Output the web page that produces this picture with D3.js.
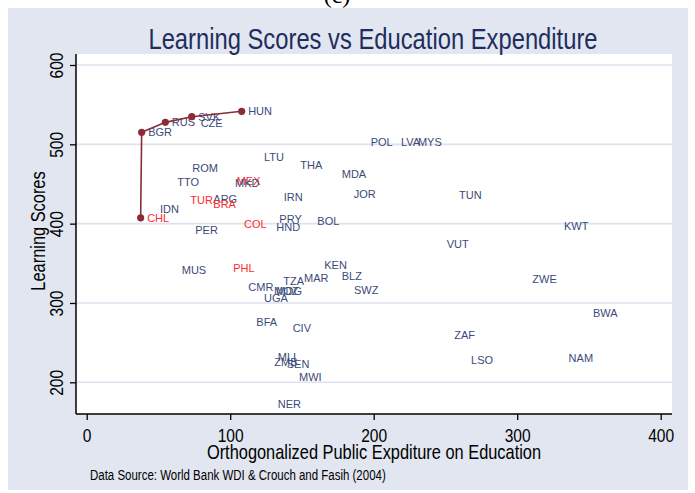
<!DOCTYPE html>
<html>
<head>
<meta charset="utf-8">
<script src="https://cdn.jsdelivr.net/npm/d3@7"></script>
<style>
  html, body { margin: 0; padding: 0; background: #ffffff; }
  svg { display: block; }
</style>
</head>
<body>
<svg id="chart" width="695" height="493"></svg>
<script>
// ---------- data ----------
const codes  = ["BGR","RUS","SVK","CZE","HUN","CHL","ROM","TTO","MEX","MKD","TUR","ARG","BRA","IDN","PER","COL","LTU",
                "POL","LVA","MYS","THA","MDA","IRN","JOR","PRY","HND","BOL","TUN","KWT","VUT","MUS","PHL","KEN","BLZ",
                "MAR","TZA","CMR","MOZ","MDG","SWZ","UGA","ZWE","BWA","BFA","CIV","ZAF","MLI","ZMB","SEN","MWI","NER","LSO","NAM"];
const expend = [38.3,54.8,73.2,74.9,108.0,37.6,69.1,58.6,100.0,98.8,67.7,83.7,83.7,46.5,71.1,105.1,119.0,
                193.4,214.5,226.3,144.3,173.2,132.8,181.5,129.7,127.6,156.2,254.9,328.1,246.3,61.7,97.6,161.0,173.2,
                146.9,132.5,108.1,126.0,127.6,181.7,119.0,306.0,348.3,113.7,139.0,251.6,128.6,126.2,134.9,143.4,128.6,263.3,331.3];
const scores = [515.1,527.7,534.8,526.5,541.6,407.4,469.7,452.1,453.7,450.8,429.8,431.4,425.1,418.4,391.9,399.1,483.6,
                502.5,502.5,502.5,473.5,462.5,433.2,436.9,405.8,395.3,403.3,436.1,397.0,374.3,341.1,343.6,348.2,334.3,
                331.0,328.0,319.7,315.4,315.4,315.9,306.6,329.8,286.9,275.9,268.3,259.5,232.2,225.9,222.6,206.2,172.5,227.6,230.5];
const redCodes = ["CHL","TUR","BRA","MEX","COL","PHL"];
const frontier = ["CHL","BGR","RUS","SVK","HUN"];
const xTicks = [0,100,200,300,400];
const yTicks = [200,300,400,500,600];

const titleText  = "Learning Scores vs Education Expenditure";
const xTitleText = "Orthogonalized Public Expditure on Education";
const yTitleText = "Learning Scores";
const noteText   = "Data Source: World Bank WDI & Crouch and Fasih (2004)";

// ---------- layout ----------
const W = 695, H = 493;
const plot = { left: 76, right: 672, top: 54, bottom: 414 };
const sans = "'Liberation Sans',Arial,Helvetica,sans-serif";
const cond = 0.82; // horizontal squeeze imitating a narrow face
const navy = "#3b4a78";
const red = "#ff2a2a";
const maroon = "#8a2b37";

const x = d3.scaleLinear().domain([0, 400]).range([86.7, 660.7]);
const y = d3.scaleLinear().domain([200, 600]).range([382.3, 65]);

const svg = d3.select("#chart");

// white page + partial header glyphs
svg.append("rect").attr("width", W).attr("height", H).attr("fill", "#ffffff");
svg.append("text").attr("x", 337).attr("y", 3).attr("text-anchor", "middle")
  .attr("font-family", "'Liberation Serif',serif").attr("font-size", 24).attr("fill", "#000")
  .text("(c)");

// graph background
svg.append("rect").attr("x", 8).attr("y", 8).attr("width", 680).attr("height", 482).attr("fill", "#e1e6f0");

// plot region
svg.append("rect").attr("x", plot.left).attr("y", plot.top)
  .attr("width", plot.right - plot.left).attr("height", plot.bottom - plot.top).attr("fill", "#ffffff");

// gridlines
svg.append("g").selectAll("line").data(yTicks).join("line")
  .attr("x1", plot.left).attr("x2", plot.right)
  .attr("y1", d => y(d)).attr("y2", d => y(d))
  .attr("stroke", "#dde2ee").attr("stroke-width", 1.6);

// axes
const yAxis = d3.axisLeft(y).tickValues(yTicks).tickSize(6).tickSizeOuter(0).tickFormat(d3.format("d"));
const gy = svg.append("g").attr("transform", `translate(${plot.left},0)`).call(yAxis);
gy.select(".domain").attr("d", `M0,${plot.top}V${plot.bottom}`).attr("stroke", "#000").attr("stroke-width", 1.5);
gy.selectAll(".tick line").attr("stroke", "#000").attr("stroke-width", 1.3);
gy.selectAll(".tick text")
  .attr("font-family", sans).attr("font-size", 19).attr("fill", "#000")
  .attr("x", 0).attr("y", 0).attr("dy", "0.35em").attr("text-anchor", "middle")
  .attr("transform", `translate(-20,0) rotate(-90) scale(${cond},1)`);

const xAxis = d3.axisBottom(x).tickValues(xTicks).tickSize(6).tickSizeOuter(0).tickFormat(d3.format("d"));
const gx = svg.append("g").attr("transform", `translate(0,${plot.bottom})`).call(xAxis);
gx.select(".domain").attr("d", `M${plot.left},0H${plot.right}`).attr("stroke", "#000").attr("stroke-width", 1.5);
gx.selectAll(".tick line").attr("stroke", "#000").attr("stroke-width", 1.3);
gx.selectAll(".tick text")
  .attr("font-family", sans).attr("font-size", 19).attr("fill", "#000")
  .attr("y", 15).attr("dy", "0.71em")
  .attr("transform", `scale(${cond},1)`);

// titles
svg.append("text").attr("transform", `translate(373,49) scale(${cond},1)`).attr("text-anchor", "middle")
  .attr("font-family", sans).attr("font-size", 29).attr("fill", "#1f2d5c").text(titleText);
svg.append("text").attr("transform", `translate(374,459) scale(${cond},1)`).attr("text-anchor", "middle")
  .attr("font-family", sans).attr("font-size", 20).attr("fill", "#000").text(xTitleText);
svg.append("text").attr("transform", `translate(45,231) rotate(-90) scale(${cond},1)`).attr("text-anchor", "middle")
  .attr("font-family", sans).attr("font-size", 20).attr("fill", "#000").text(yTitleText);
svg.append("text").attr("transform", `translate(90,480) scale(${cond},1)`)
  .attr("font-family", sans).attr("font-size", 14).attr("fill", "#000").text(noteText);

// country labels
const pts = codes.map((c, i) => ({ code: c, ex: expend[i], sc: scores[i] }));
svg.append("g").selectAll("text").data(pts).join("text")
  .attr("x", d => x(d.ex) + 6.5).attr("y", d => y(d.sc)).attr("dy", "0.36em")
  .attr("font-family", sans).attr("font-size", 11)
  .attr("fill", d => redCodes.includes(d.code) ? red : navy)
  .text(d => d.code);

// frontier line + markers
const fpts = frontier.map(c => pts.find(p => p.code === c));
svg.append("path").datum(fpts)
  .attr("d", d3.line().x(d => x(d.ex)).y(d => y(d.sc)))
  .attr("fill", "none").attr("stroke", maroon).attr("stroke-width", 1.6);
svg.append("g").selectAll("circle").data(fpts).join("circle")
  .attr("cx", d => x(d.ex)).attr("cy", d => y(d.sc)).attr("r", 3.6).attr("fill", maroon);
</script>
</body>
</html>
